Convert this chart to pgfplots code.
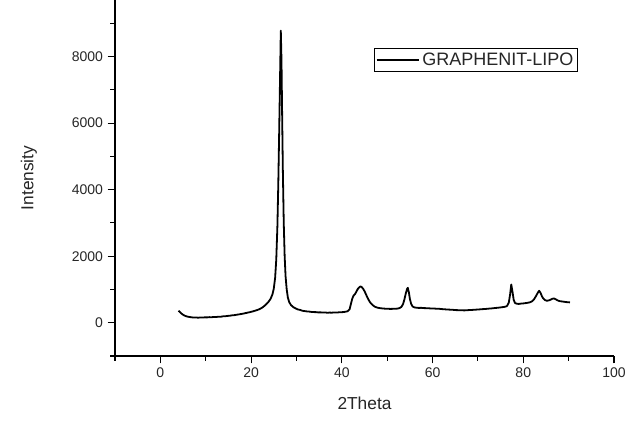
\documentclass[border=0pt]{standalone}
\usepackage{fontspec}
\setmainfont{Liberation Sans}
\usepackage{pgfplots}
\pgfplotsset{compat=1.18}
\pgfplotstableread{
x y
4.0 360
4.3 320
4.6 280
5.0 240
5.4 210
5.8 190
6.3 175
6.8 165
7.3 155
7.8 160
8.3 150
8.8 158
9.3 155
9.8 162
10.3 160
10.8 168
11.3 165
11.8 175
12.3 172
12.8 182
13.3 180
13.8 192
14.3 195
14.8 205
15.3 210
15.8 222
16.3 228
16.8 240
17.3 250
17.8 262
18.3 275
18.8 290
19.3 305
19.8 320
20.3 338
20.8 358
21.3 380
21.8 405
22.3 440
22.8 490
23.3 550
23.8 620
24.3 720
24.7 850
25.0 1020
25.3 1350
25.55 1900
25.8 2900
26.0 4200
26.2 5800
26.4 7500
26.55 8780
26.7 7900
26.85 6200
27.0 4600
27.2 3000
27.4 2000
27.6 1400
27.85 1000
28.1 760
28.4 620
28.8 530
29.3 470
29.8 430
30.3 400
30.8 385
31.3 360
31.8 350
32.3 340
32.8 335
33.3 325
33.8 320
34.3 318
34.8 310
35.3 312
35.8 305
36.3 308
36.8 300
37.3 305
37.8 302
38.3 310
38.8 305
39.3 312
39.8 315
40.3 320
40.8 330
41.3 345
41.7 400
42.0 560
42.3 720
42.6 820
42.9 860
43.2 930
43.5 1010
43.8 1060
44.1 1090
44.4 1070
44.7 1020
45.0 950
45.3 860
45.6 770
45.9 690
46.2 620
46.5 570
46.9 520
47.3 480
47.8 455
48.3 440
48.8 432
49.3 425
49.8 420
50.3 418
50.8 415
51.3 418
51.8 420
52.3 425
52.7 440
53.1 470
53.5 560
53.8 700
54.1 880
54.4 1020
54.55 1050
54.8 900
55.0 720
55.3 560
55.6 490
56.0 460
56.5 450
57.0 445
57.5 448
58.0 440
58.5 438
59.0 435
59.5 430
60.0 428
60.5 425
61.0 420
61.5 418
62.0 410
62.5 405
63.0 400
63.5 395
64.0 392
64.5 388
65.0 380
65.5 378
66.0 372
66.5 375
67.0 370
67.5 375
68.0 380
68.5 382
69.0 388
69.5 392
70.0 398
70.5 402
71.0 408
71.5 412
72.0 418
72.5 425
73.0 430
73.5 438
74.0 445
74.5 452
75.0 460
75.5 470
76.0 480
76.4 500
76.8 600
77.1 850
77.35 1150
77.6 950
77.9 680
78.2 590
78.6 570
79.0 565
79.5 575
80.0 580
80.5 590
81.0 600
81.5 615
82.0 650
82.4 710
82.8 800
83.2 900
83.5 960
83.8 900
84.1 800
84.4 730
84.8 680
85.2 660
85.6 670
86.0 690
86.4 720
86.8 730
87.2 700
87.6 670
88.0 650
88.5 640
89.0 630
89.5 620
90.0 615
90.3 610
}\xrd
\begin{document}
\begin{tikzpicture}
\begin{axis}[
  scale only axis,
  width=374.25pt, height=267pt,
  xmin=-10, xmax=100, ymin=-1000, ymax=9700,
  axis x line*=bottom, axis y line*=left,
  axis line style={line width=0.8pt, -},
  xtick={0,20,40,60,80,100},
  ytick={0,2000,4000,6000,8000},
  minor xtick={-10,10,30,50,70,90},
  minor ytick={-1000,1000,3000,5000,7000,9000},
  tick align=outside,
  major tick length=5.5pt, minor tick length=3.5pt,
  tick style={line width=0.8pt, black},
  every tick label/.append style={font=\fontsize{10.5}{12}\selectfont, text=black!85},
  /pgf/number format/assume math mode=true,
  /pgf/number format/1000 sep={},
  xlabel={2Theta}, ylabel={Intensity},
  label style={font=\fontsize{13}{15}\selectfont, text=black!85},
  xlabel style={at={(axis description cs:0.5,-0.132)}, anchor=center},
  ylabel style={at={(axis description cs:-0.1725,0.5)}, anchor=center},
  legend style={at={(axis description cs:0.928,0.865)}, anchor=north east,
    draw=black, line width=0.6pt, font=\fontsize{13.5}{15}\selectfont,
    inner sep=1.2pt, cells={anchor=west}, text=black!85},
  legend image code/.code={\draw[#1,line width=0.8pt] (-1pt,0pt) -- (31pt,0pt);},
]
\addplot[black, line width=1.35pt, line join=round] table[x=x,y=y] {\xrd};
\addlegendentry{GRAPHENIT-LIPO}
\end{axis}
\pgfresetboundingbox
\useasboundingbox ([shift={(-86.25pt,-56.25pt)}]current axis.south west) rectangle ([shift={(19.5pt,0pt)}]current axis.north east);
\end{tikzpicture}
\end{document}
